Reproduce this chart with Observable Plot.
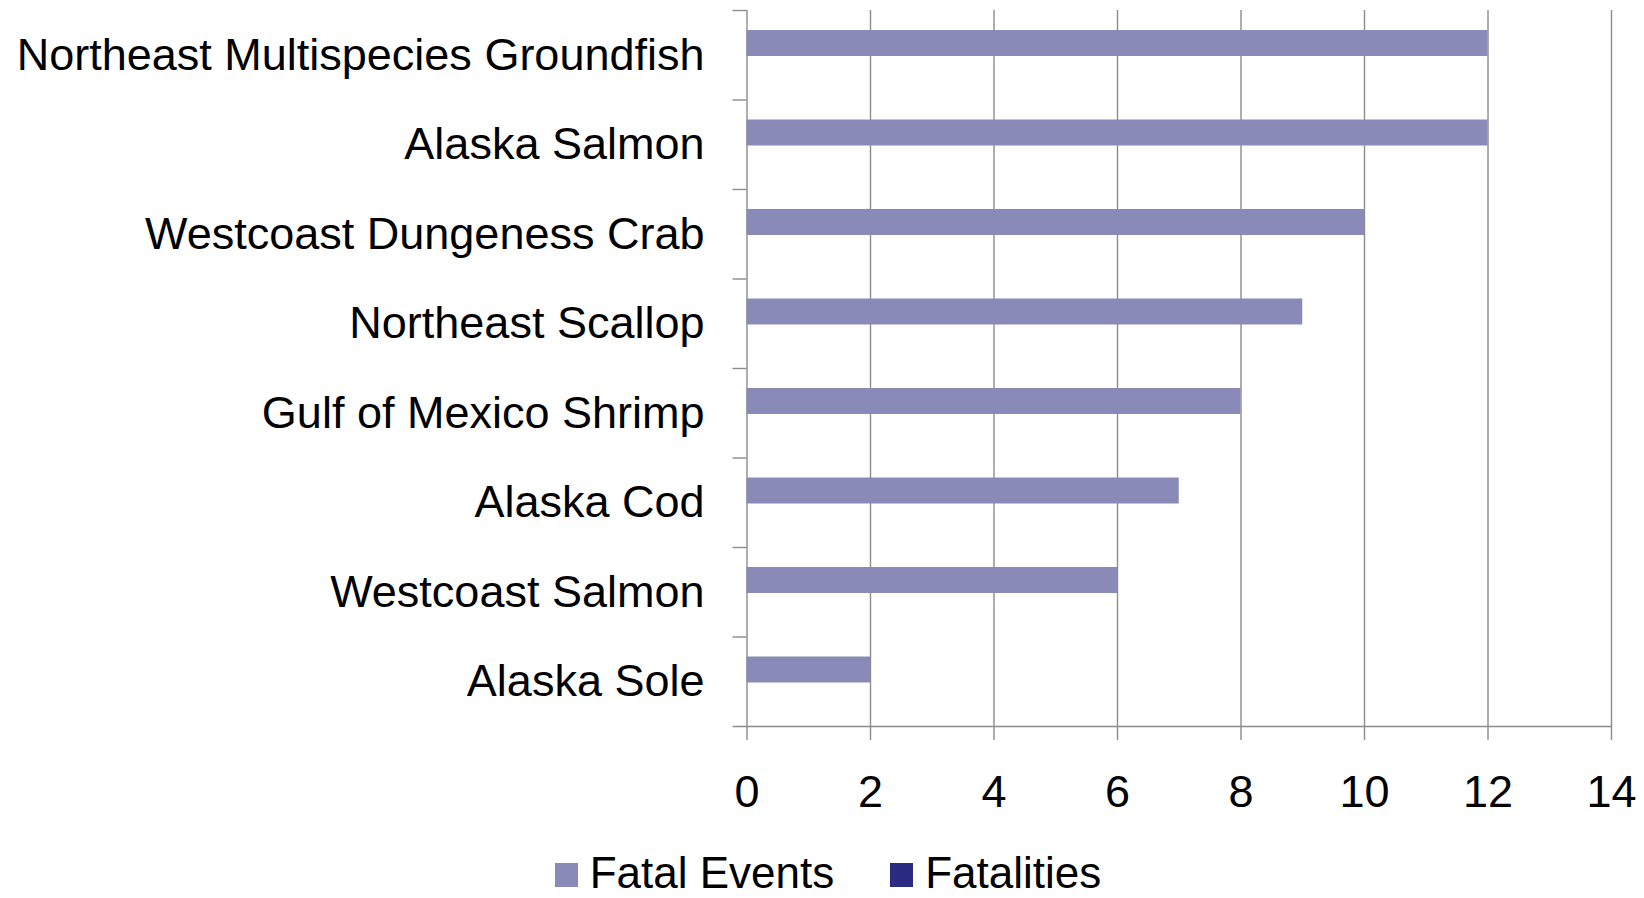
<!DOCTYPE html>
<html><head><meta charset="utf-8">
<script src="https://cdn.jsdelivr.net/npm/d3@7"></script>
<script src="https://cdn.jsdelivr.net/npm/@observablehq/plot@0.6"></script>
<style>
html,body{margin:0;padding:0;background:#fff;overflow:hidden}
body{width:1644px;height:898px;font-family:"Liberation Sans",Arial,sans-serif}
#legend{display:flex;justify-content:center;align-items:center;padding-top:24px;line-height:38px;height:38px;font-size:44px;color:#000;padding-left:12px}
.item{display:flex;align-items:center;margin:0 28px}
.sw{width:23px;height:24px;margin-right:12px;position:relative;top:2px}
</style></head><body><div id="chart"></div><div id="legend"></div>
<script>
const categories = ["Northeast Multispecies Groundfish","Alaska Salmon","Westcoast Dungeness Crab","Northeast Scallop","Gulf of Mexico Shrimp","Alaska Cod","Westcoast Salmon","Alaska Sole"];
const fatalEvents = [12,12,10,9,8,7,6,2];
const fatalities = [0,0,0,0,0,0,0,0];
const seriesNames = ["Fatal Events","Fatalities"];
const seriesColors = ["#8a8ab8","#2b2b82"];
const xTicks = [0,2,4,6,8,10,12,14];

const W = 1644, H = 830, mT = 10, mB = 104, mL = 746.5, mR = 33;
const band = (H - mT - mB) / categories.length;
const gridColor = "#8c8c8c";
const font = '"Liberation Sans", Arial, sans-serif';

const rows = [];
categories.forEach((c, i) => {
  rows.push({category: c, series: seriesNames[0], value: fatalEvents[i]});
  rows.push({category: c, series: seriesNames[1], value: fatalities[i]});
});

const chart = Plot.plot({
  width: W, height: H,
  marginTop: mT, marginBottom: mB, marginLeft: mL, marginRight: mR,
  style: {fontFamily: font, background: "#fff", color: "#000"},
  x: {domain: [xTicks[0], xTicks[xTicks.length - 1]], axis: null},
  y: {domain: categories, padding: 0, round: false, axis: null},
  color: {domain: seriesNames, range: seriesColors},
  marks: [
    Plot.ruleX(xTicks, {stroke: gridColor, strokeWidth: 1.4, insetBottom: -14}),
    Plot.ruleY(categories, {y: d => d, x1: xTicks[0], x2: xTicks[0], dy: -band / 2, insetLeft: -14, stroke: gridColor, strokeWidth: 1.4}),
    Plot.ruleY([categories[categories.length - 1]], {y: d => d, x1: xTicks[0], x2: xTicks[xTicks.length - 1], dy: band / 2, insetLeft: -14, stroke: gridColor, strokeWidth: 1.4}),
    Plot.barX(rows.filter(d => d.series === seriesNames[0]), {y: "category", x: "value", fill: "series", insetTop: 20, insetBottom: band - 46}),
    Plot.barX(rows.filter(d => d.series === seriesNames[1]), {y: "category", x: "value", fill: "series", insetTop: 46, insetBottom: band - 72}),
    Plot.axisX(xTicks, {tickSize: 0, tickPadding: 49, fontSize: 45, fill: "#000", label: null, fontFamily: font}),
    Plot.axisY({tickSize: 0, tickPadding: 42.5, fontSize: 45, fill: "#000", label: null, fontFamily: font})
  ]
});
document.getElementById("chart").appendChild(chart);

const legend = document.getElementById("legend");
seriesNames.forEach((n, i) => {
  const it = document.createElement("div");
  it.className = "item";
  it.innerHTML = `<div class="sw" style="background:${seriesColors[i]}"></div><span>${n}</span>`;
  legend.appendChild(it);
});
</script>
</body></html>
